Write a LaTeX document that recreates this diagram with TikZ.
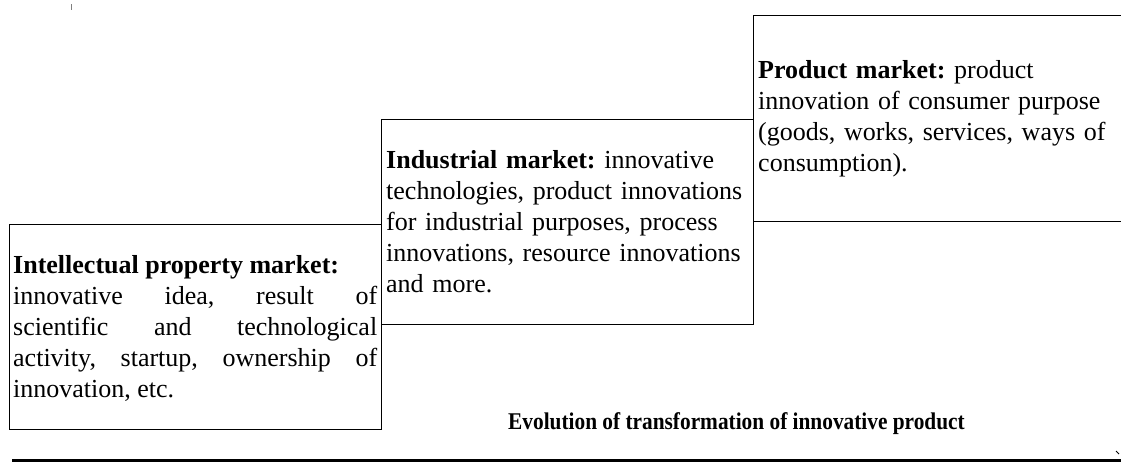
\documentclass[tikz,border=0pt]{standalone}
\usepackage{fontspec}
\usepackage{graphicx}
\setmainfont{Liberation Serif}
\frenchspacing
\begin{document}
\begin{tikzpicture}[x=1pt,y=-1pt,
  market/.style={draw=black, line width=0.8pt, minimum width=372pt,
    minimum height=205pt, inner sep=0pt, anchor=north west},
  body/.style={text width=364pt, inner sep=0pt, anchor=west,
    font=\fontsize{26}{31}\selectfont\frenchspacing},
  caption/.style={inner sep=0pt, anchor=base,
    font=\fontsize{24}{28}\selectfont\bfseries},
  timeline/.style={line width=2.2pt, line cap=butt}]
\useasboundingbox (0,0) rectangle (1121,466);
\clip (0,0) rectangle (1121,466);

% three market stages, stepping up to the right
\node[market] (ip)   at (9,224)  {};
\node[market] (ind)  at (381,119) {};
\node[market, minimum height=206pt] (prod) at (753,15) {};

\node[body, align=justify] (iptext) at ([xshift=4pt,yshift=-2pt]ip.west)
  {\textbf{Intellectual property market:}\\
   innovative idea, result of\linebreak
   scientific and technological\linebreak
   activity, startup, ownership of\linebreak
   innovation, etc.};

\node[body, align=left] (indtext) at ([xshift=5pt,yshift=0pt]ind.west)
  {\textbf{Industrial market:} innovative\\
   technologies, product innovations\\
   for industrial purposes, process\\
   innovations, resource innovations\\
   and more.};

\node[body, align=left] (prodtext) at ([xshift=5pt]prod.west)
  {\textbf{Product market:} product\\
   innovation of consumer purpose\\
   (goods, works, services, ways of\\
   consumption).};

% caption and time axis
\node[caption] (cap) at (736.5,429)
  {\scalebox{0.889}[1]{Evolution of transformation of innovative product}};

\coordinate (axisstart) at (12,460.5);
\coordinate (axisend)   at (1121,460.5);
\draw[timeline] (axisstart) -- (axisend);
\coordinate (tipa) at (1116,451);
\coordinate (tipb) at (1119,454);
\draw[line width=1pt] (tipa) -- (tipb);

% small tick at the top left
\coordinate (ticka) at (71,4);
\coordinate (tickb) at (71,10);
\draw[gray, line width=0.9pt] (ticka) -- (tickb);
\end{tikzpicture}
\end{document}
